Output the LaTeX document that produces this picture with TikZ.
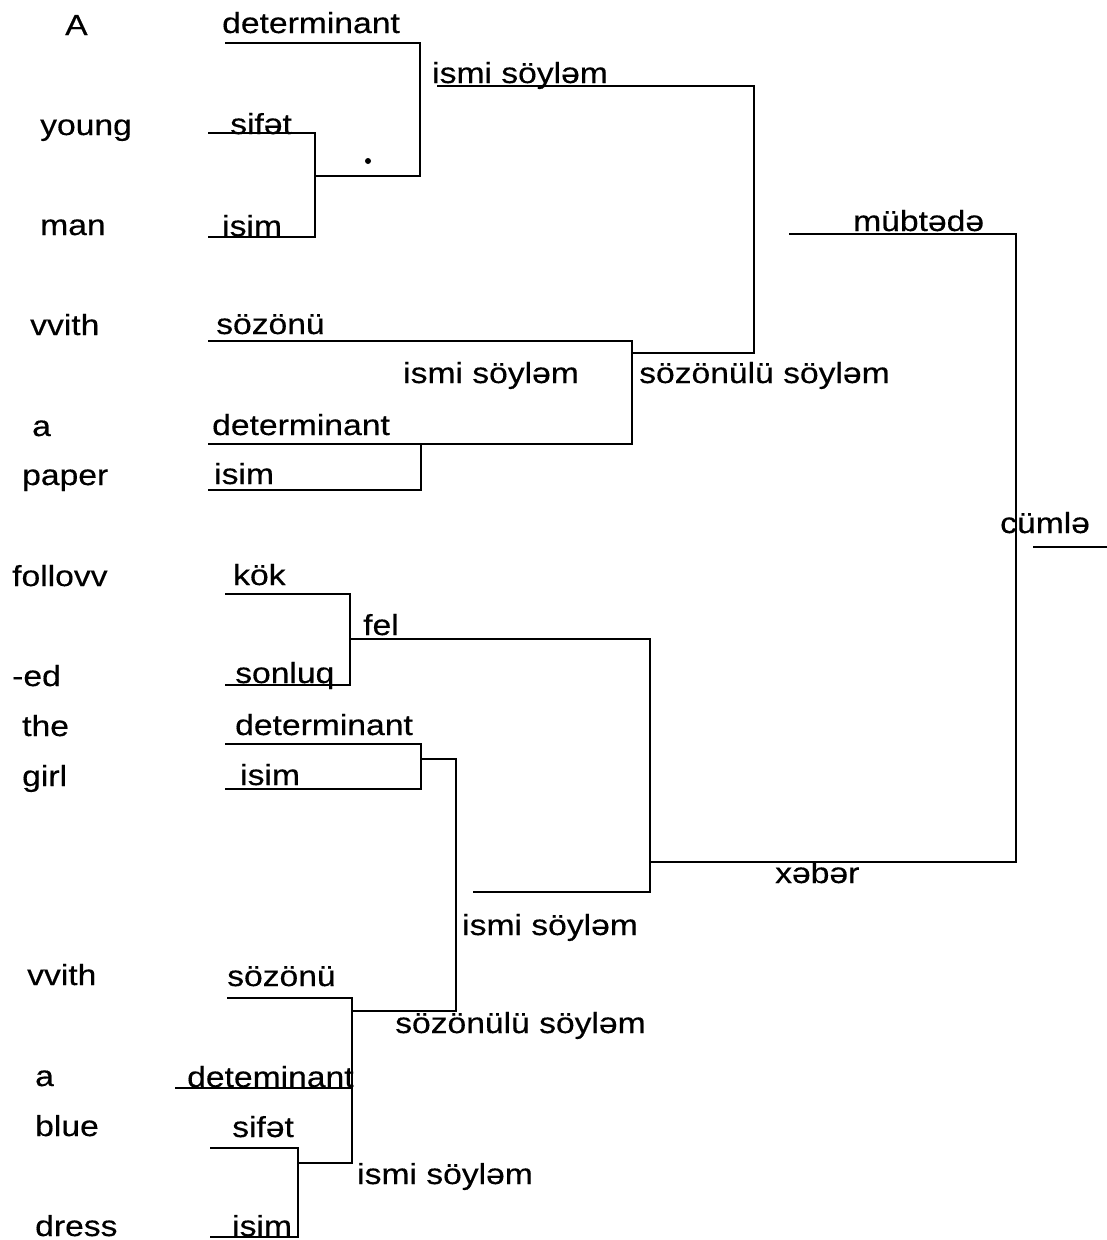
\documentclass[tikz,border=0pt]{standalone}
\usepackage{fontspec}
\setmainfont{Liberation Sans}[FakeStretch=1.16,FakeBold=0.4]
\begin{document}
\begin{tikzpicture}[x=1pt,y=-1pt,
  lbl/.style={anchor=base west,inner sep=0pt,font=\fontsize{29}{32}\selectfont},
  br/.style={line width=1.6pt,line join=miter}]
\fill[white] (0,0) rectangle (1107,1240);
\useasboundingbox (0,0) rectangle (1107,1240);

% words of the sentence
\node[lbl] (wA) at (65,35) {A};
\node[lbl] (wyoung) at (40,135) {young};
\node[lbl] (wman) at (40,235) {man};
\node[lbl] (wwith) at (30,335) {vvith};
\node[lbl] (wa) at (32,436) {a};
\node[lbl] (wpaper) at (22,485) {paper};
\node[lbl] (wfollow) at (12,586) {follovv};
\node[lbl] (wed) at (12,686) {-ed};
\node[lbl] (wthe) at (22,736) {the};
\node[lbl] (wgirl) at (22,786) {girl};
\node[lbl] (wwithb) at (27,985) {vvith};
\node[lbl] (wab) at (35,1086) {a};
\node[lbl] (wblue) at (35,1136) {blue};
\node[lbl] (wdress) at (35,1236) {dress};

% category labels
\node[lbl] (tdet1) at (222,33) {determinant};
\node[lbl] (tsif1) at (230,134) {sifət};
\node[lbl] (tis1) at (222,236) {isim};
\node[lbl] (tnp1) at (432,83) {ismi söyləm};
\node[lbl] (tsubj) at (853,231) {mübtədə};
\node[lbl] (tprep1) at (216,334) {sözönü};
\node[lbl] (tnp2) at (403,383) {ismi söyləm};
\node[lbl] (tpp1) at (639,383) {sözönülü söyləm};
\node[lbl] (tdet2) at (212,435) {determinant};
\node[lbl] (tis2) at (214,484) {isim};
\node[lbl] (tsent) at (1000,533) {cümlə};
\node[lbl] (tkok) at (233,585) {kök};
\node[lbl] (tfel) at (363,635) {fel};
\node[lbl] (tson) at (235,683) {sonluq};
\node[lbl] (tdet3) at (235,735) {determinant};
\node[lbl] (tis3) at (240,785) {isim};
\node[lbl] (tpred) at (775,883) {xəbər};
\node[lbl] (tnp3) at (462,935) {ismi söyləm};
\node[lbl] (tprep2) at (227,986) {sözönü};
\node[lbl] (tpp2) at (395,1033) {sözönülü söyləm};
\node[lbl] (tdet4) at (187,1087) {deteminant};
\node[lbl] (tsif4) at (232,1137) {sifət};
\node[lbl] (tnp4) at (357,1184) {ismi söyləm};
\node[lbl] (tis4) at (232,1236) {isim};

% bracket corners
\coordinate (det1L) at (225,43);   \coordinate (det1R) at (420,43);
\coordinate (sif1L) at (208,133);  \coordinate (sif1R) at (315,133);
\coordinate (is1L) at (208,237);   \coordinate (is1R) at (315,237);
\coordinate (adjN) at (315,176);   \coordinate (np1J) at (420,176);
\coordinate (np1L) at (437,86);    \coordinate (np1R) at (754,86);
\coordinate (pp1J) at (754,353);   \coordinate (pp1L) at (632,353);
\coordinate (prep1L) at (208,341); \coordinate (prep1R) at (632,341);
\coordinate (det2L) at (208,444);  \coordinate (det2R) at (632,444);
\coordinate (det2M) at (421,444);
\coordinate (is2L) at (208,490);   \coordinate (is2R) at (421,490);
\coordinate (subjL) at (789,234);  \coordinate (subjR) at (1016,234);
\coordinate (predR) at (1016,862); \coordinate (predL) at (650,862);
\coordinate (sentL) at (1033,547); \coordinate (sentR) at (1107,547);
\coordinate (kokL) at (225,594);   \coordinate (kokR) at (350,594);
\coordinate (sonL) at (225,685);   \coordinate (sonR) at (350,685);
\coordinate (felL) at (350,639);   \coordinate (felR) at (650,639);
\coordinate (objR) at (650,892);   \coordinate (objL) at (473,892);
\coordinate (det3L) at (225,744);  \coordinate (det3R) at (421,744);
\coordinate (is3L) at (225,789);   \coordinate (is3R) at (421,789);
\coordinate (g1) at (421,759);     \coordinate (g2) at (456,759);
\coordinate (pp2R) at (456,1011);  \coordinate (pp2L) at (352,1011);
\coordinate (prep2L) at (227,998); \coordinate (prep2R) at (352,998);
\coordinate (np4J) at (352,1163);  \coordinate (np4L) at (298,1163);
\coordinate (det4L) at (175,1088); \coordinate (det4R) at (352,1088);
\coordinate (sif4L) at (210,1148); \coordinate (sif4R) at (298,1148);
\coordinate (is4L) at (210,1237);  \coordinate (is4R) at (298,1237);

% brackets
\draw[br] (det1L) -- (det1R) -- (np1J) -- (adjN);
\draw[br] (sif1L) -- (sif1R) -- (is1R) -- (is1L);
\draw[br] (np1L) -- (np1R) -- (pp1J) -- (pp1L);
\draw[br] (prep1L) -- (prep1R) -- (det2R) -- (det2L);
\draw[br] (det2M) -- (is2R) -- (is2L);
\draw[br] (subjL) -- (subjR) -- (predR) -- (predL);
\draw[br] (sentL) -- (sentR);
\draw[br] (kokL) -- (kokR) -- (sonR) -- (sonL);
\draw[br] (felL) -- (felR) -- (objR) -- (objL);
\draw[br] (det3L) -- (det3R) -- (is3R) -- (is3L);
\draw[br] (g1) -- (g2) -- (pp2R) -- (pp2L);
\draw[br] (prep2L) -- (prep2R) -- (np4J) -- (np4L);
\draw[br] (det4L) -- (det4R);
\draw[br] (sif4L) -- (sif4R) -- (is4R) -- (is4L);

% stray mark
\fill (368,161) circle (3pt);
\end{tikzpicture}
\end{document}
